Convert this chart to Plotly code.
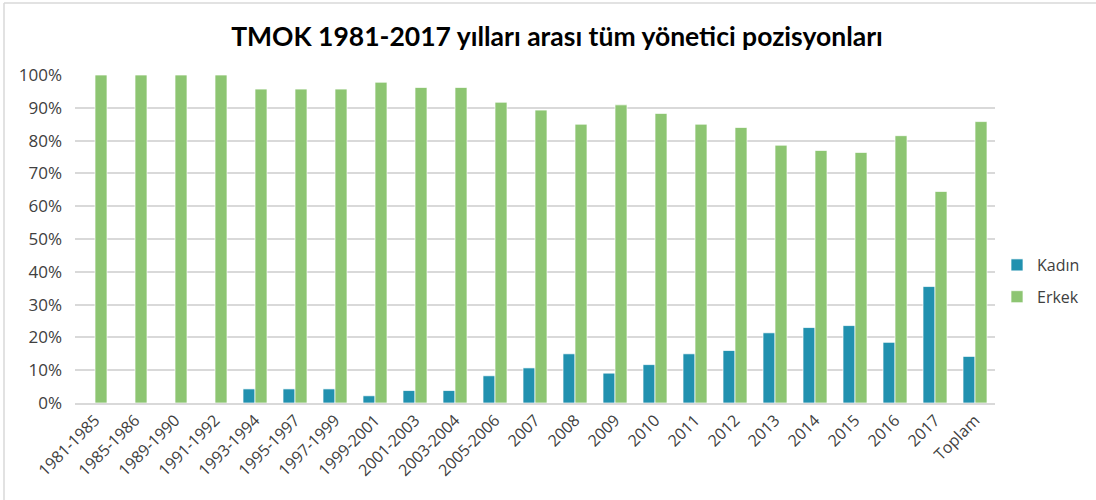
import plotly.graph_objects as go

categories = ["1981-1985", "1985-1986", "1989-1990", "1991-1992", "1993-1994", "1995-1997",
              "1997-1999", "1999-2001", "2001-2003", "2003-2004", "2005-2006", "2007", "2008",
              "2009", "2010", "2011", "2012", "2013", "2014", "2015", "2016", "2017", "Toplam"]
kadin = [0, 0, 0, 0, 4.3, 4.3, 4.3, 2.2, 3.8, 3.8, 8.3, 10.7, 15.0, 9.1, 11.7, 15.0, 16.0,
         21.4, 23.0, 23.6, 18.5, 35.5, 14.2]
erkek = [100, 100, 100, 100, 95.7, 95.7, 95.7, 97.8, 96.2, 96.2, 91.7, 89.3, 85.0, 90.9, 88.3,
         85.0, 84.0, 78.6, 77.0, 76.4, 81.5, 64.5, 85.8]
yticks = [0, 10, 20, 30, 40, 50, 60, 70, 80, 90, 100]
ytick_labels = [f"{v}%" for v in yticks]

fig = go.Figure()
fig.add_trace(go.Bar(x=categories, y=kadin, name="Kadın", legendgroup="k",
                     marker=dict(color="#2191AF", line=dict(color="rgba(255,255,255,0.7)", width=1))))
fig.add_trace(go.Bar(x=categories, y=erkek, name="Erkek", legendgroup="e",
                     marker=dict(color="#8DC572", line=dict(color="rgba(255,255,255,0.7)", width=1))))

L, R, T, B = 75, 101, 75, 97
W, H = 1096, 500
pw, ph = W - L - R, H - T - B

fig.update_layout(
    width=W, height=H,
    margin=dict(l=L, r=R, t=T, b=B, pad=0, autoexpand=False),
    paper_bgcolor="white", plot_bgcolor="white",
    barmode="group", bargap=0.4, bargroupgap=0,
    title=dict(text="<b>TMOK 1981-2017 yılları arası tüm yönetici pozisyonları</b>",
               x=(557 - L) / pw, xref="paper", xanchor="center",
               y=1 - 37 / H, yanchor="middle",
               font=dict(family="Lato, Open Sans, sans-serif", size=26.5, color="#000000", weight=900)),
    font=dict(family="Open Sans, sans-serif", color="#404040"),
    legend=dict(x=(997 - L) / pw, xanchor="left", y=(403 - 281) / ph, yanchor="middle",
                font=dict(size=16, color="#404040"), itemwidth=30, tracegroupgap=8,
                bgcolor="rgba(0,0,0,0)"),
    showlegend=True,
    xaxis=dict(tickangle=-45, tickfont=dict(size=16, color="#404040"), showgrid=False,
               showline=True, linecolor="#d9d9d9", linewidth=1.5, ticks="", automargin=False,
               range=[-0.5, len(categories) - 0.5]),
    yaxis=dict(range=[0, 100], tickvals=yticks, ticktext=ytick_labels, automargin=False,
               tickfont=dict(size=17, color="#404040"), showgrid=True, gridcolor="#d9d9d9",
               gridwidth=1.5, zeroline=False, ticks="", ticklabelstandoff=12),
    shapes=[
        dict(type="line", xref="paper", yref="paper", x0=(4 - L) / pw, x1=(4 - L) / pw,
             y0=(403 - 3) / ph, y1=(403 - 505) / ph,
             line=dict(color="#d9d9d9", width=1.5)),
        dict(type="line", xref="paper", yref="paper", x0=(4 - L) / pw, x1=(1100 - L) / pw,
             y0=(403 - 3) / ph, y1=(403 - 3) / ph, line=dict(color="#d9d9d9", width=1.5)),
    ],
)

fig.write_html("out.html", config={"displayModeBar": False},
               post_script="document.body.style.margin='0';")
